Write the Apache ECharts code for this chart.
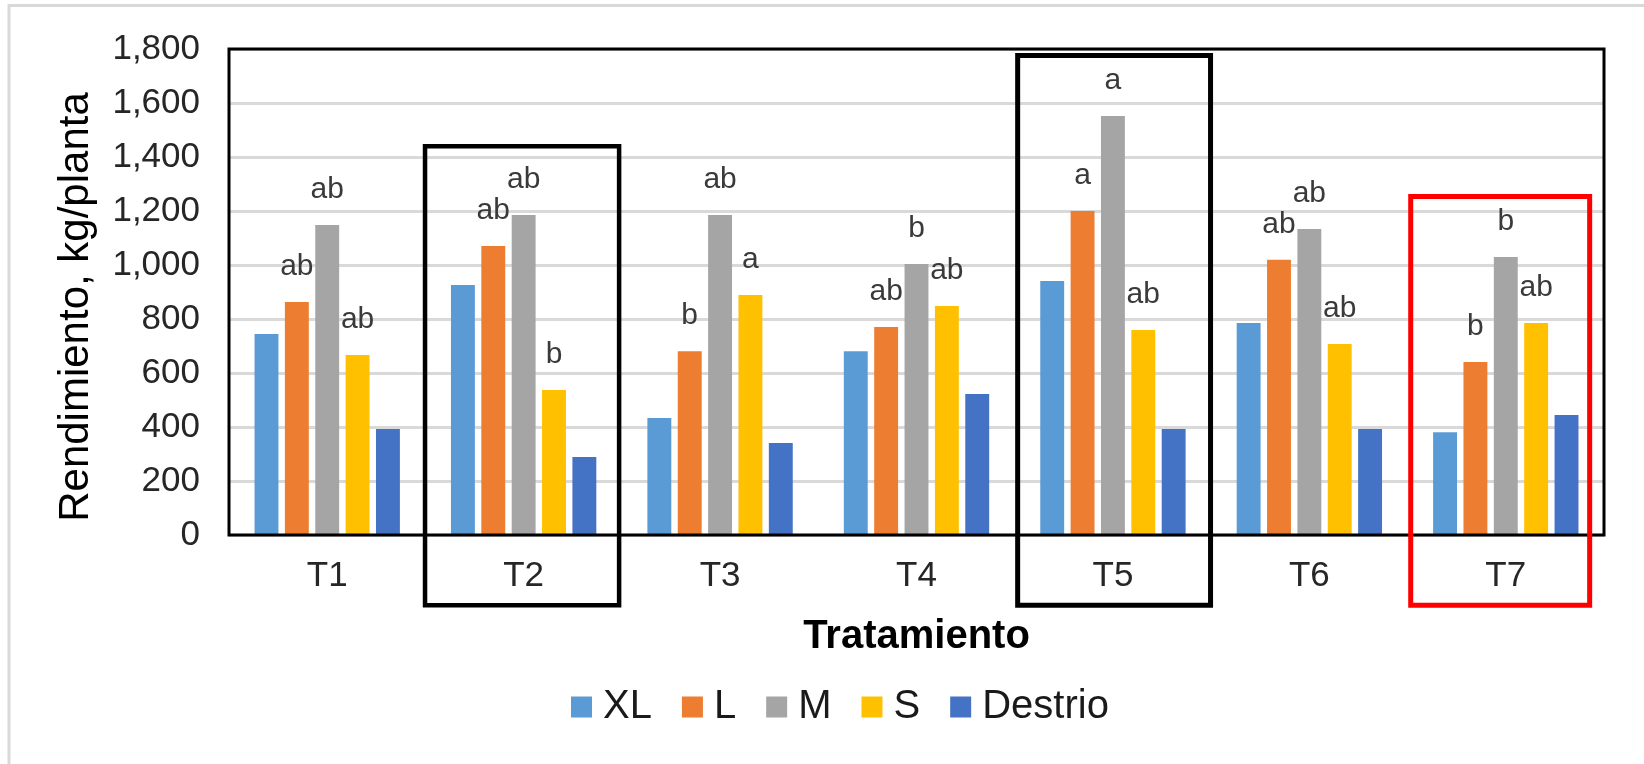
<!DOCTYPE html>
<html>
<head>
<meta charset="utf-8">
<script src="https://cdn.jsdelivr.net/npm/echarts@6/dist/echarts.min.js"></script>
<style>
  html, body { margin: 0; padding: 0; background: #ffffff; }
  #chart { width: 1644px; height: 764px; }
</style>
</head>
<body>
<div id="chart"></div>
<script>
// ---- data ----
const categories = ['T1', 'T2', 'T3', 'T4', 'T5', 'T6', 'T7'];
const seriesNames = ['XL', 'L', 'M', 'S', 'Destrio'];
const xlValues = [744, 926, 433, 681, 941, 785, 381];
const lValues = [863, 1070, 681, 770, 1200, 1019, 641];
const mValues = [1148, 1185, 1185, 1004, 1552, 1133, 1030];
const sValues = [667, 537, 889, 848, 759, 707, 785];
const destrioValues = [393, 289, 341, 522, 393, 393, 444];
const xlLetters = ['', '', '', '', '', '', ''];
const lLetters = ['ab', 'ab', 'b', 'ab', 'a', 'ab', 'b'];
const mLetters = ['ab', 'ab', 'ab', 'b', 'a', 'ab', 'b'];
const sLetters = ['ab', 'b', 'a', 'ab', 'ab', 'ab', 'ab'];
const destrioLetters = ['', '', '', '', '', '', ''];
const yTicks = [0, 200, 400, 600, 800, 1000, 1200, 1400, 1600, 1800];
// highlighted treatments (annotation boxes): category, top value
const boxCats = ['T2', 'T5', 'T7'];
const boxTops = [1440, 1776, 1254];

// ---- styles ----
const colors = ['#5B9BD5', '#ED7D31', '#A5A5A5', '#FFC000', '#4472C4'];
const FONT = "'Liberation Sans', Arial, sans-serif";
const boxStyles = [
  { color: '#000000', lw: 4.5, l: -0.502, r: 0.486 },
  { color: '#000000', lw: 5, l: -0.485, r: 0.497 },
  { color: '#FF0000', lw: 5, l: -0.484, r: 0.427 }
];
const boxBottomValue = -260;

const allValues = [xlValues, lValues, mValues, sValues, destrioValues];
const allLetters = [xlLetters, lLetters, mLetters, sLetters, destrioLetters];

const chart = echarts.init(document.getElementById('chart'), null, { renderer: 'canvas' });

const series = seriesNames.map((name, i) => ({
  name: name,
  type: 'bar',
  data: allValues[i],
  barGap: '27%',
  barCategoryGap: '26%',
  itemStyle: { color: colors[i] },
  label: {
    show: true,
    position: 'top',
    distance: 20,
    fontFamily: FONT,
    fontSize: 30,
    lineHeight: 30,
    color: '#3a3a3a',
    formatter: (p) => allLetters[i][p.dataIndex]
  },
  emphasis: { disabled: true },
  animation: false
}));

const option = {
  animation: false,
  backgroundColor: '#ffffff',
  textStyle: { fontFamily: FONT },
  grid: {
    left: 229, right: 40, top: 49, bottom: 229,
    show: false
  },
  legend: {
    data: seriesNames,
    left: 566,
    top: 682,
    icon: 'rect',
    itemWidth: 21,
    itemHeight: 21,
    itemGap: 30,
    selectedMode: false,
    textStyle: { fontFamily: FONT, fontSize: 40, lineHeight: 40, color: '#1a1a1a', padding: [0, 0, 0, 6] }
  },
  xAxis: {
    type: 'category',
    data: categories,
    name: 'Tratamiento',
    nameLocation: 'middle',
    nameGap: 80,
    nameTextStyle: { fontFamily: FONT, fontSize: 40, lineHeight: 44, fontWeight: 'bold', color: '#000000' },
    axisLine: { show: false },
    axisTick: { show: false },
    axisLabel: { fontFamily: FONT, fontSize: 35, lineHeight: 40, color: '#262626', margin: 21 }
  },
  yAxis: {
    type: 'value',
    min: yTicks[0],
    max: yTicks[yTicks.length - 1],
    interval: 200,
    name: 'Rendimiento, kg/planta',
    nameLocation: 'middle',
    nameGap: 130,
    nameTextStyle: { fontFamily: FONT, fontSize: 42, lineHeight: 46, color: '#000000', padding: [0, 30, 0, 0] },
    axisLine: { show: false },
    axisTick: { show: false },
    axisLabel: {
      fontFamily: FONT, fontSize: 35, color: '#262626', margin: 29,
      formatter: (v) => v.toLocaleString('en-US')
    },
    splitLine: { show: true, lineStyle: { color: '#D9D9D9', width: 3 } }
  },
  series: series
};

chart.setOption(option);

// frame and annotation boxes placed through the chart's own axes
const c0 = chart.convertToPixel({ xAxisIndex: 0 }, categories[0]);
const c1 = chart.convertToPixel({ xAxisIndex: 0 }, categories[1]);
const bandW = c1 - c0;
const plotLeft = c0 - bandW / 2;
const plotRight = plotLeft + bandW * categories.length;
const plotTop = chart.convertToPixel({ yAxisIndex: 0 }, yTicks[yTicks.length - 1]);
const plotBottom = chart.convertToPixel({ yAxisIndex: 0 }, yTicks[0]);
const graphics = [{
  type: 'rect',
  shape: { x: 9, y: 5.5, width: 1700, height: 800 },
  style: { fill: null, stroke: '#D9D9D9', lineWidth: 3 },
  silent: true, z: -1
}, {
  type: 'rect',
  shape: { x: plotLeft, y: plotTop, width: plotRight - plotLeft, height: plotBottom - plotTop },
  style: { fill: null, stroke: '#000000', lineWidth: 3 },
  silent: true, z: 90
}];
boxCats.forEach((cat, i) => {
  const cx = chart.convertToPixel({ xAxisIndex: 0 }, cat);
  const yTop = chart.convertToPixel({ yAxisIndex: 0 }, boxTops[i]);
  const yBot = chart.convertToPixel({ yAxisIndex: 0 }, boxBottomValue);
  const st = boxStyles[i];
  const x0 = cx + st.l * bandW;
  const x1 = cx + st.r * bandW;
  graphics.push({
    type: 'rect',
    shape: { x: x0, y: yTop, width: x1 - x0, height: yBot - yTop },
    style: { fill: null, stroke: st.color, lineWidth: st.lw },
    silent: true, z: 100
  });
});
chart.setOption({ graphic: graphics });
</script>
</body>
</html>
